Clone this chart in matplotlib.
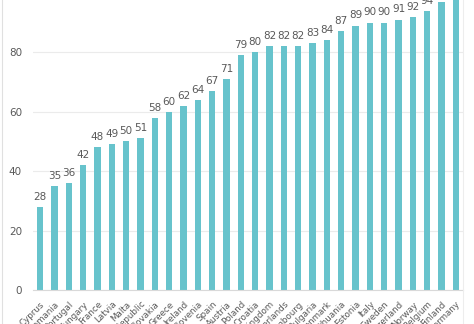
import matplotlib.pyplot as plt
from matplotlib.lines import Line2D

countries = ['Cyprus', 'Romania', 'Portugal', 'Hungary', 'France', 'Latvia', 'Malta',
             'Czech Republic', 'Slovakia', 'Greece', 'Ireland', 'Slovenia', 'Spain',
             'Austria', 'Poland', 'Croatia', 'United Kingdom', 'Netherlands', 'Luxembourg',
             'Bulgaria', 'Denmark', 'Lithuania', 'Estonia', 'Italy', 'Sweden',
             'Switzerland', 'Norway', 'Belgium', 'Finland', 'Germany']
values = [28, 35, 36, 42, 48, 49, 50, 51, 58, 60, 62, 64, 67, 71, 79, 80, 82, 82, 82,
          83, 84, 87, 89, 90, 90, 91, 92, 94, 97, 99]
yticks = [0, 20, 40, 60, 80]

bar_color = '#67C3CC'
text_color = '#595959'
grid_color = '#EBEBEB'

fig = plt.figure(figsize=(4.74, 3.24), dpi=100)
ax = fig.add_axes([33 / 474, 1 - 290 / 324, 430 / 474, 290 / 324])

x = list(range(len(countries)))
ax.bar(x, values, width=0.42, color=bar_color, zorder=2)
for xi, v in zip(x, values):
    ax.text(xi, v + 2.4, str(v), ha='center', va='baseline', fontsize=7.5,
            color=text_color, clip_on=False)

ax.set_xlim(-0.5, len(countries) - 0.5)
ax.set_ylim(0, 97.6)
ax.set_yticks(yticks)
ax.set_yticklabels([str(t) for t in yticks], fontsize=7.5, color=text_color)
ax.set_xticks(x)
ax.set_xticklabels(countries, rotation=45, ha='right', rotation_mode='anchor',
                   fontsize=6.3, color=text_color)
ax.tick_params(axis='both', length=0)
ax.tick_params(axis='y', pad=8)
ax.tick_params(axis='x', pad=7)
ax.yaxis.grid(True, color=grid_color, lw=0.8, zorder=0)
ax.set_axisbelow(True)
for s in ['top', 'right', 'left']:
    ax.spines[s].set_visible(False)
ax.spines['bottom'].set_color('#D9D9D9')
ax.spines['bottom'].set_linewidth(0.8)

# chart frame edges
fig.add_artist(Line2D([1.5 / 474, 1.5 / 474], [0, 1], color='#E0E0E0', lw=0.8))
fig.add_artist(Line2D([463 / 474, 463 / 474], [0, 1], color='#EDEDED', lw=0.8))

plt.savefig('out.png', dpi=100)
